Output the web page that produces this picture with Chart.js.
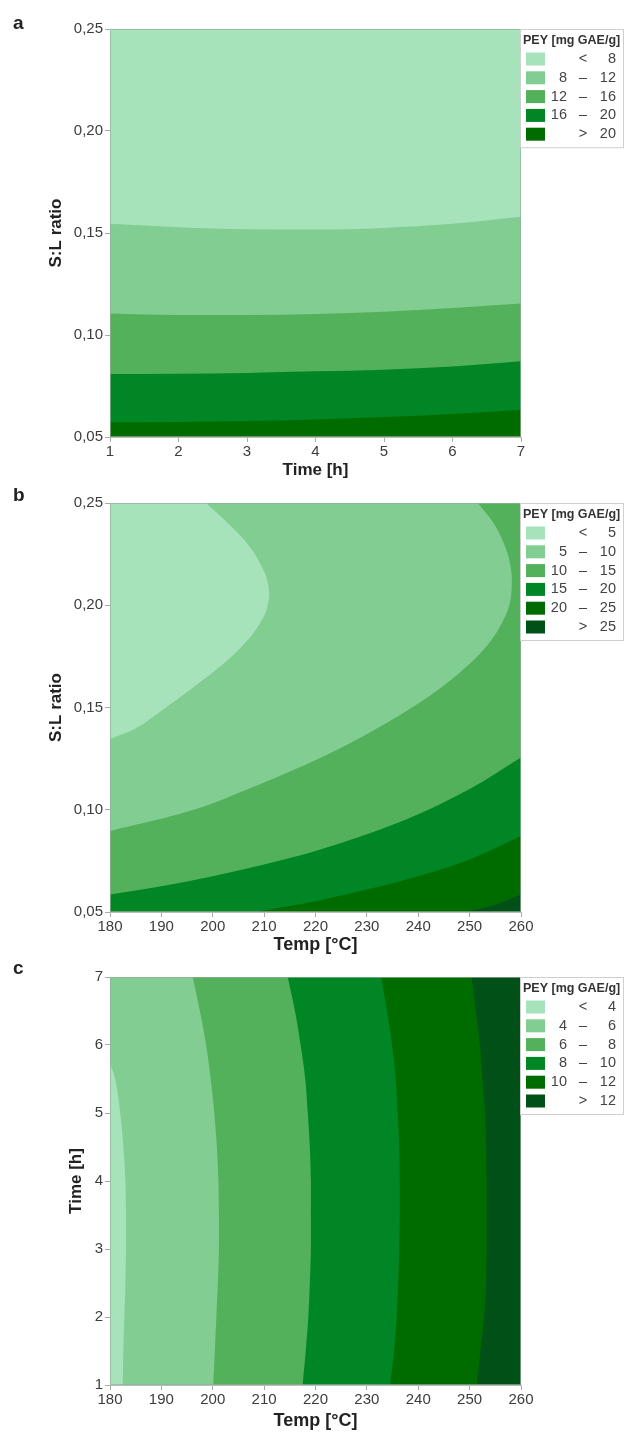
<!DOCTYPE html>
<html>
<head>
<meta charset="utf-8">
<script src="https://cdn.jsdelivr.net/npm/chart.js@4.4.1/dist/chart.umd.min.js"></script>
<style>
  body { margin: 0; background: #fff; width: 624px; height: 1432px; position: relative; overflow: hidden; }
  .panel { position: absolute; left: 0; width: 624px; }
  .letter { position: absolute; left: 13px; font: bold 19px "Liberation Sans", Arial, sans-serif; color: #222; }
</style>
</head>
<body>
<div class="panel" style="top:0"><canvas id="chartA" width="624" height="490"></canvas></div>
<div class="panel" style="top:490px"><canvas id="chartB" width="624" height="470"></canvas></div>
<div class="panel" style="top:960px"><canvas id="chartC" width="624" height="472"></canvas></div>
<div class="letter" style="top:12px">a</div>
<div class="letter" style="top:484px">b</div>
<div class="letter" style="top:957px">c</div>

<script>
// axis ticks
const timeTicks = [1, 2, 3, 4, 5, 6, 7];
const timeLabels = ['1', '2', '3', '4', '5', '6', '7'];
const tempTicks = [180, 190, 200, 210, 220, 230, 240, 250, 260];
const tempLabels = ['180', '190', '200', '210', '220', '230', '240', '250', '260'];
const ratioTicks = [0.05, 0.10, 0.15, 0.20, 0.25];
const ratioLabels = ['0,05', '0,10', '0,15', '0,20', '0,25'];

const greens = ['#a6e3bb', '#82cd91', '#53b15c', '#008624', '#006c00', '#005018'];

// (a) S:L ratio where PEY crosses each level, read at each hour
const aLevels = [8, 12, 16, 20];
const aTime = [1, 2, 3, 4, 5, 6, 7];
const aRatio8 = [0.1545, 0.1528, 0.1518, 0.1517, 0.1525, 0.1545, 0.158];
const aRatio12 = [0.1105, 0.1098, 0.1098, 0.1103, 0.1114, 0.1132, 0.1154];
const aRatio16 = [0.0809, 0.081, 0.0814, 0.0822, 0.083, 0.0846, 0.0871];
const aRatio20 = [0.0572, 0.0573, 0.0578, 0.0586, 0.0598, 0.0613, 0.0634];

// (b) temperature vs S:L ratio contours
const bLevels = [5, 10, 15, 20, 25];
const bRatio5 = [0.25, 0.24, 0.23, 0.22, 0.21, 0.20, 0.19, 0.18, 0.17, 0.16, 0.15, 0.14, 0.1346];
const bTemp5 = [198.7, 203.0, 206.8, 209.3, 210.8, 210.7, 208.9, 205.7, 201.4, 196.3, 190.9, 185.1, 180];
const bRatio10 = [0.25, 0.24, 0.23, 0.22, 0.21, 0.20, 0.19, 0.18, 0.17, 0.16, 0.15, 0.14, 0.13, 0.12, 0.11, 0.10, 0.0896];
const bTemp10 = [251.6, 254.7, 256.7, 257.9, 258.2, 257.7, 256.0, 253.3, 249.4, 244.6, 238.8, 232.1, 224.7, 216.2, 206.8, 196.3, 180];
const bTemp15 = [180, 190, 200, 210, 220, 230, 240, 250, 260];
const bRatio15 = [0.0585, 0.0626, 0.0675, 0.0732, 0.0798, 0.088, 0.0978, 0.1101, 0.1256];
const bTemp20 = [208.8, 210, 220, 230, 240, 250, 260];
const bRatio20 = [0.05, 0.0507, 0.0553, 0.061, 0.0675, 0.0757, 0.0872];
const bTemp25 = [249.3, 255, 260];
const bRatio25 = [0.05, 0.0535, 0.0585];

// (c) temperature where PEY crosses each level, read along time
const cLevels = [4, 6, 8, 10, 12];
const cTime = [7, 6.5, 6, 5.5, 5, 4.5, 4, 3.5, 3, 2.5, 2, 1.5, 1];
const cTime4 = [5.73, 5.5, 5, 4.5, 4, 3.5, 3, 2.5, 2, 1.5, 1];
const cTemp4 = [180, 181.0, 182.0, 182.6, 183.0, 183.1, 183.1, 183.0, 182.8, 182.6, 182.5];
const cTemp6 = [196.1, 197.5, 198.7, 199.6, 200.3, 200.8, 201.1, 201.2, 201.2, 201.0, 200.7, 200.4, 200.1];
const cTemp8 = [214.6, 216.0, 217.1, 218.0, 218.5, 218.9, 219.1, 219.1, 219.1, 218.9, 218.6, 218.1, 217.5];
const cTemp10 = [232.8, 233.9, 234.9, 235.6, 236.0, 236.3, 236.4, 236.4, 236.3, 236.1, 235.8, 235.3, 234.5];
const cTemp12 = [250.4, 251.2, 252.0, 252.5, 253.0, 253.2, 253.3, 253.3, 253.3, 253.2, 252.8, 252.1, 251.4];

const fontFamily = "'Liberation Sans', Arial, sans-serif";

// curves that bend back (C-shapes) get a plain spline, the others a monotone one
function contour(xs, ys, color, fill, axis, bent) {
    return {
        data: xs.map((x, i) => ({ x: x, y: ys[i] })),
        backgroundColor: color,
        borderWidth: 0,
        pointRadius: 0,
        fill: fill,
        indexAxis: axis,
        tension: bent ? 0.4 : 0,
        cubicInterpolationMode: bent ? 'default' : 'monotone'
    };
}

function legendRows(levels) {
    const rows = [['', '<', String(levels[0])]];
    for (let i = 1; i < levels.length; i++) {
        rows.push([String(levels[i - 1]), '\u2013', String(levels[i])]);
    }
    rows.push(['', '>', String(levels[levels.length - 1])]);
    return rows;
}

const plotBg = {
    id: 'plotBg',
    beforeDatasetsDraw(chart, args, opts) {
        const a = chart.chartArea;
        chart.ctx.save();
        chart.ctx.fillStyle = opts.color;
        chart.ctx.fillRect(a.left, a.top, a.right - a.left, a.bottom - a.top);
        chart.ctx.restore();
    },
    afterDatasetsDraw(chart) {
        const a = chart.chartArea;
        const ctx = chart.ctx;
        ctx.save();
        ctx.strokeStyle = 'rgba(150,175,155,0.7)';
        ctx.lineWidth = 1;
        ctx.strokeRect(a.left + 0.5, a.top + 0.5, a.right - a.left - 1, a.bottom - a.top - 1);
        ctx.restore();
    }
};

const peyLegend = {
    id: 'peyLegend',
    afterDraw(chart, args, opts) {
        const ctx = chart.ctx;
        const top = chart.chartArea.top;
        const left = chart.chartArea.right - 1;
        const rows = legendRows(opts.levels);
        const step = 18.8;
        const boxBottom = top + 30 + (rows.length - 1) * step + 13;
        ctx.save();
        ctx.fillStyle = '#fff';
        ctx.fillRect(left, top, chart.width - left, boxBottom - top);
        ctx.strokeStyle = '#cfcfcf';
        ctx.lineWidth = 1;
        ctx.strokeRect(left + 0.5, top + 0.5, chart.width - left - 1, boxBottom - top);
        ctx.fillStyle = '#333';
        ctx.font = 'bold 12.5px ' + fontFamily;
        ctx.textBaseline = 'middle';
        ctx.textAlign = 'left';
        ctx.fillText('PEY [mg GAE/g]', left + 3, top + 12);
        ctx.font = '14.5px ' + fontFamily;
        rows.forEach((r, i) => {
            const y = top + 30 + i * step;
            ctx.fillStyle = opts.colors[i];
            ctx.fillRect(left + 6, y - 6.5, 19, 13);
            ctx.fillStyle = '#444';
            ctx.textAlign = 'right';
            ctx.fillText(r[0], left + 47, y);
            ctx.fillText(r[2], left + 96, y);
            ctx.textAlign = 'center';
            ctx.fillText(r[1], left + 63, y);
        });
        ctx.restore();
    }
};

function scale(min, max, ticks, labels, title, titleFont, titlePad, fitSize, horizontal) {
    return {
        type: 'linear',
        min: min,
        max: max,
        afterBuildTicks: s => { s.ticks = ticks.map(v => ({ value: v })); },
        afterFit: s => { if (horizontal) { s.height = fitSize; } else { s.width = fitSize; } },
        ticks: {
            callback: (v, i) => labels[i],
            autoSkip: false,
            maxRotation: 0,
            padding: horizontal ? 1 : 2,
            color: '#3c3c3c',
            font: { family: fontFamily, size: 15 }
        },
        grid: { drawOnChartArea: false, tickLength: 5, color: '#aaa' },
        border: { color: '#bbb' },
        title: {
            display: true,
            text: title,
            color: '#222',
            font: { family: fontFamily, size: titleFont, weight: 'bold' },
            padding: titlePad
        }
    };
}

function makeChart(id, datasets, bg, levels, colors, xScale, yScale, padTop) {
    datasets.forEach((d, i) => { d.order = -i; });
    return new Chart(document.getElementById(id), {
        type: 'line',
        data: { datasets: datasets },
        options: {
            responsive: false,
            animation: false,
            layout: { padding: { top: padTop, right: 103, left: 0, bottom: 0 } },
            scales: { x: xScale, y: yScale },
            plugins: {
                legend: { display: false },
                tooltip: { enabled: false },
                plotBg: { color: bg },
                peyLegend: { levels: levels, colors: colors }
            }
        },
        plugins: [plotBg, peyLegend]
    });
}

makeChart('chartA', [
    contour(aTime, aRatio8, greens[1], 'start', 'x'),
    contour(aTime, aRatio12, greens[2], 'start', 'x'),
    contour(aTime, aRatio16, greens[3], 'start', 'x'),
    contour(aTime, aRatio20, greens[4], 'start', 'x')
], greens[0], aLevels, greens.slice(0, 5),
    scale(1, 7, timeTicks, timeLabels, 'Time [h]', 17, { top: 0, bottom: 9.8 }, 53, true),
    scale(0.05, 0.25, ratioTicks, ratioLabels, 'S:L ratio', 17, { top: 46, bottom: 0 }, 110, false),
    29);

makeChart('chartB', [
    contour(bTemp10, bRatio10, greens[1], { value: 180 }, 'y', true),
    contour(bTemp5, bRatio5, greens[0], { value: 180 }, 'y', true),
    contour(bTemp15, bRatio15, greens[3], 'start', 'x'),
    contour(bTemp20, bRatio20, greens[4], 'start', 'x'),
    contour(bTemp25, bRatio25, greens[5], 'start', 'x')
], greens[2], bLevels, greens,
    scale(180, 260, tempTicks, tempLabels, 'Temp [°C]', 18, { top: 0, bottom: 4.2 }, 48, true),
    scale(0.05, 0.25, ratioTicks, ratioLabels, 'S:L ratio', 17, { top: 46, bottom: 0 }, 110, false),
    13);

makeChart('chartC', [
    contour(cTemp12, cTime, greens[4], { value: 180 }, 'y', true),
    contour(cTemp10, cTime, greens[3], { value: 180 }, 'y', true),
    contour(cTemp8, cTime, greens[2], { value: 180 }, 'y', true),
    contour(cTemp6, cTime, greens[1], { value: 180 }, 'y', true),
    contour(cTemp4, cTime4, greens[0], { value: 180 }, 'y', true)
], greens[5], cLevels, greens,
    scale(180, 260, tempTicks, tempLabels, 'Temp [°C]', 18, { top: 0, bottom: 0.2 }, 47, true),
    scale(1, 7, timeTicks, timeLabels, 'Time [h]', 17, { top: 65.8, bottom: 0 }, 110, false),
    17);
</script>
</body>
</html>
